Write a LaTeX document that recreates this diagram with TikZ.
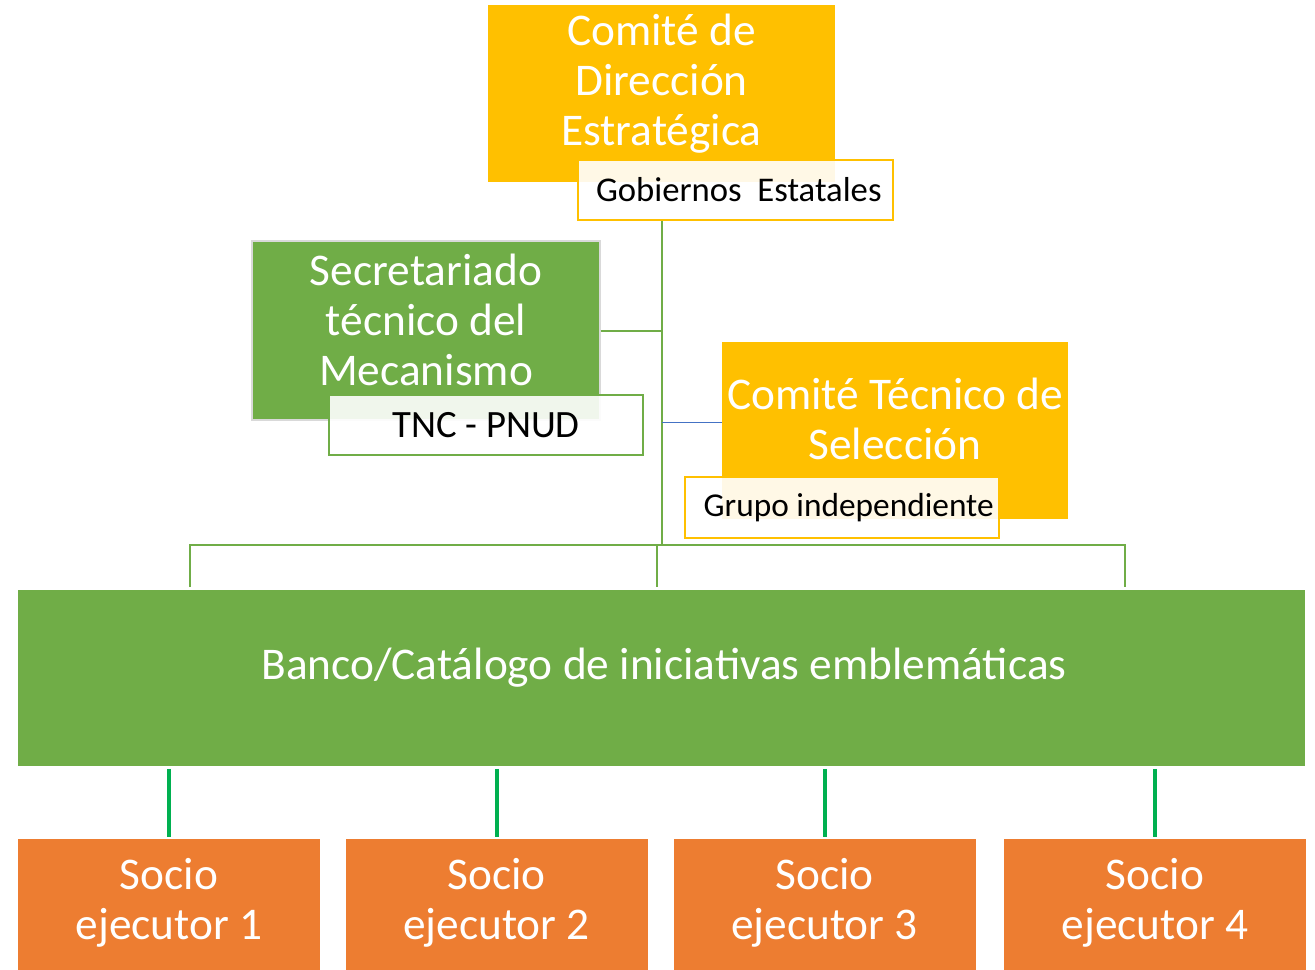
\documentclass[tikz,border=0pt]{standalone}
\usepackage{fontspec}
\setmainfont{Carlito}
\usepackage{xcolor}
\definecolor{gold}{HTML}{FFC000}
\definecolor{leaf}{HTML}{70AD47}
\definecolor{rust}{HTML}{ED7D31}
\definecolor{dropgreen}{HTML}{00B050}
\definecolor{steel}{HTML}{4472C4}
\tikzset{
  box/.style={rectangle, inner sep=0pt},
  bigtext/.style={text=white, align=center, inner sep=0.75pt, font=\fontsize{34}{37.5}\selectfont},
  tag/.style={rectangle, fill=white, fill opacity=0.9, text opacity=1, line width=1.5pt, inner sep=0pt, font=\fontsize{25}{30}\selectfont},
  link/.style={leaf, line width=1.5pt},
  drop/.style={dropgreen, line width=3pt},
}

\begin{document}
\begin{tikzpicture}[x=0.75pt,y=0.75pt,yscale=-1,xscale=1]
\useasboundingbox (0,0) rectangle (1315,970);

%Rectangle: Comite de Direccion
    \node[box, fill=gold, minimum width=260.25pt, minimum height=132.75pt] (cde) at (661.5,93.5) {};
% Text Node
    \node[bigtext] (cde-t) at (661.5,84) {Comité de\\Dirección\\Estratégica};
%Tag: Gobiernos
    \node[tag, draw=gold, minimum width=236.25pt, minimum height=45pt, font=\fontsize{26}{30}\selectfont] (gob) at (735.5,190) {\hspace{5pt}Gobiernos\ \ Estatales};

%Rectangle: Secretariado
    \node[box, fill=leaf, draw=black!15, line width=1pt, minimum width=261pt, minimum height=134.25pt] (sec) at (426,330.5) {};
% Text Node
    \node[bigtext] (sec-t) at (426,320) {Secretariado\\técnico del\\Mecanismo};
%Tag: TNC
    \node[tag, draw=leaf, minimum width=235.5pt, minimum height=45pt, font=\fontsize{29}{32}\selectfont] (tnc) at (486,425) {TNC - PNUD};

%Rectangle: Comite Tecnico
    \node[box, fill=gold, minimum width=259.5pt, minimum height=132.75pt] (cts) at (895,430.5) {};
% Text Node
    \node[bigtext] (cts-t) at (895,419) {Comité Técnico de\\Selección};
%Tag: Grupo
    \node[tag, draw=gold, minimum width=235.5pt, minimum height=45.75pt] (grp) at (842,507.5) {\hspace{10pt}Grupo independiente};

%Rectangle: Banco
    \node[box, fill=leaf, minimum width=965.25pt, minimum height=132pt] (banco) at (661.5,678) {};
% Text Node
    \node[bigtext] (banco-t) at (664,668) {Banco/Catálogo de iniciativas emblemáticas};

%Rectangles: Socios
    \node[box, fill=rust, minimum width=226.5pt, minimum height=98.25pt] (s1) at (169,904.5) {};
    \node[box, fill=rust, minimum width=226.5pt, minimum height=98.25pt] (s2) at (496.5,904.5) {};
    \node[box, fill=rust, minimum width=226.5pt, minimum height=98.25pt] (s3) at (824.5,904.5) {};
    \node[box, fill=rust, minimum width=226.5pt, minimum height=98.25pt] (s4) at (1155,904.5) {};
% Text Node
    \node[bigtext] (s1-t) at (169,903) {Socio\\ejecutor 1};
    \node[bigtext] (s2-t) at (496.5,903) {Socio\\ejecutor 2};
    \node[bigtext] (s3-t) at (824.5,903) {Socio\\ejecutor 3};
    \node[bigtext] (s4-t) at (1155,903) {Socio\\ejecutor 4};

%Connectors
    \coordinate (bus) at (657,545);
    \coordinate (busL) at (190,545);
    \coordinate (busR) at (1125,545);
    \draw[link] (cde.south |- gob.south) -- (cde.south |- bus);
    \draw[link] (sec.east) -- (sec.east -| cde.south);
    \draw[steel, line width=0.75pt] ([yshift=-6pt]cts.west) -- ([yshift=-6pt]cts.west -| cde.south);
    \draw[link] ([yshift=-2pt]busL |- banco.north) -- (busL) -- (busR) -- ([yshift=-2pt]busR |- banco.north);
    \draw[link] (bus) -- ([yshift=-2pt]bus |- banco.north);
    \draw[drop, shorten <=2pt, shorten >=1.5pt] (s1.north |- banco.south) -- (s1.north);
    \draw[drop, shorten <=2pt, shorten >=1.5pt] (s2.north |- banco.south) -- (s2.north);
    \draw[drop, shorten <=2pt, shorten >=1.5pt] (s3.north |- banco.south) -- (s3.north);
    \draw[drop, shorten <=2pt, shorten >=1.5pt] (s4.north |- banco.south) -- (s4.north);

\end{tikzpicture}
\end{document}
